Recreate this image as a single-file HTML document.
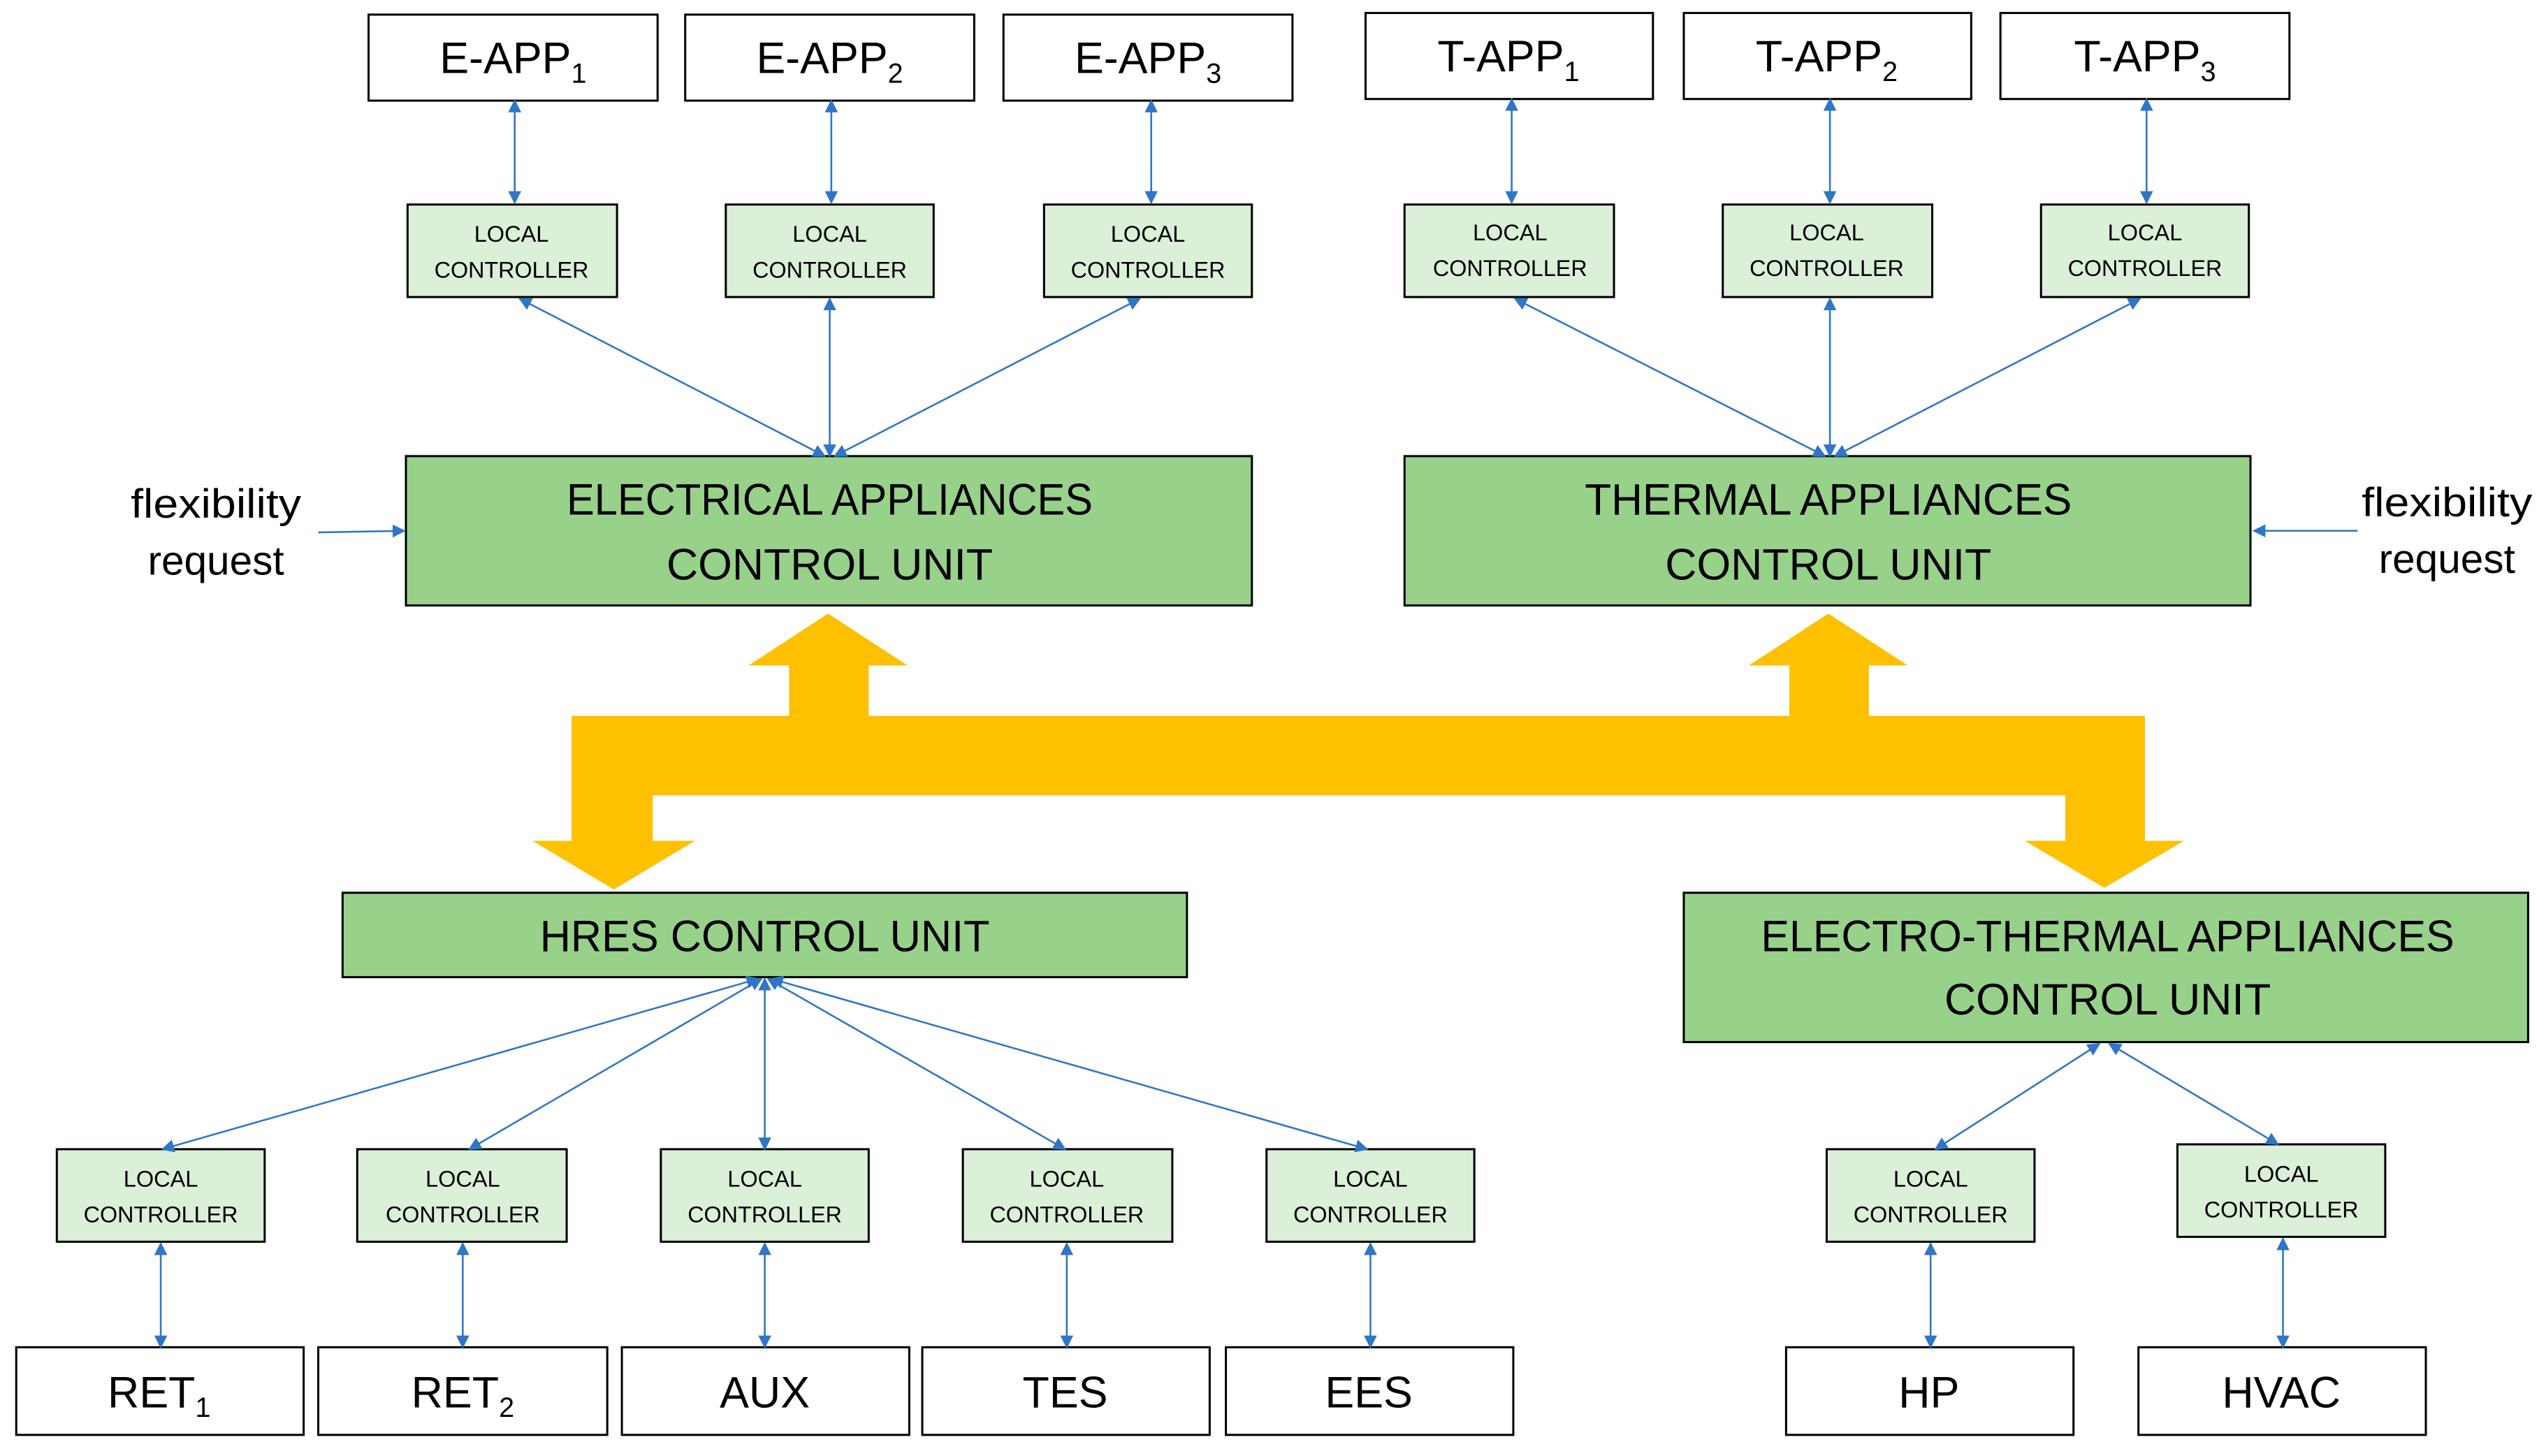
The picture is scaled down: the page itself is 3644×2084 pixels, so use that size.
<!DOCTYPE html>
<html><head><meta charset="utf-8"><style>
html,body{margin:0;padding:0;background:#fff;}
svg{display:block;}
text{font-family:"Liberation Sans Narrow","Liberation Sans",sans-serif;fill:#000;}
</style></head><body>
<svg width="3644" height="2084" viewBox="0 0 1568 897" preserveAspectRatio="none" xmlns="http://www.w3.org/2000/svg">
<defs>
<marker id="a" viewBox="0 0 10 10" refX="9" refY="5" markerWidth="8" markerHeight="8" markerUnits="userSpaceOnUse" orient="auto-start-reverse"><path d="M0,0L10,5L0,10z" fill="#2f75c8"/></marker>
</defs>
<g stroke="#000" stroke-width="1.3" fill="#fff">
<rect x="227" y="9" width="178" height="53"/><rect x="422" y="9" width="178" height="53"/><rect x="618" y="9" width="178" height="53"/>
<rect x="841" y="8" width="177" height="53"/><rect x="1037" y="8" width="177" height="53"/><rect x="1232" y="8" width="178" height="53"/>
<rect x="10" y="830" width="177" height="54"/><rect x="196" y="830" width="178" height="54"/><rect x="383" y="830" width="177" height="54"/><rect x="568" y="830" width="177" height="54"/><rect x="755" y="830" width="177" height="54"/>
<rect x="1100" y="830" width="177" height="54"/><rect x="1317" y="830" width="177" height="54"/>
</g>
<g stroke="#000" stroke-width="1.3" fill="#dcefd8">
<rect x="251" y="126" width="129" height="57"/><rect x="447" y="126" width="128" height="57"/><rect x="643" y="126" width="128" height="57"/>
<rect x="865" y="126" width="129" height="57"/><rect x="1061" y="126" width="129" height="57"/><rect x="1257" y="126" width="128" height="57"/>
<rect x="35" y="708" width="128" height="57"/><rect x="220" y="708" width="129" height="57"/><rect x="407" y="708" width="128" height="57"/><rect x="593" y="708" width="129" height="57"/><rect x="780" y="708" width="128" height="57"/>
<rect x="1125" y="708" width="128" height="57"/><rect x="1341" y="705" width="128" height="57"/>
</g>
<g stroke="#000" stroke-width="1.3" fill="#98d18a">
<rect x="250" y="281" width="521" height="92"/><rect x="865" y="281" width="521" height="92"/>
<rect x="211" y="550" width="520" height="52"/><rect x="1037" y="550" width="520" height="92"/>
</g>
<g fill="#ffc000">
<path d="M352,441H1321V518H1345L1296,547L1247,518H1272V490H402V518H428L378,548L328,518H352Z"/>
<path d="M486,441V410H461L510,378L559,410H535V441Z"/>
<path d="M1102,441V410H1077L1126,378L1175,410H1151V441Z"/>
</g>
<g stroke="#2f75c8" stroke-width="1.1" fill="none" marker-start="url(#a)" marker-end="url(#a)">
<line x1="317" y1="62" x2="317" y2="125"/><line x1="512" y1="62" x2="512" y2="125"/><line x1="709" y1="62" x2="709" y2="125"/>
<line x1="931" y1="61" x2="931" y2="125"/><line x1="1127" y1="61" x2="1127" y2="125"/><line x1="1322" y1="61" x2="1322" y2="125"/>
<line x1="320" y1="184" x2="508" y2="281"/><line x1="511" y1="184" x2="511" y2="281"/><line x1="702" y1="184" x2="514" y2="281"/>
<line x1="933" y1="184" x2="1124" y2="281"/><line x1="1127" y1="184" x2="1127" y2="281"/><line x1="1318" y1="184" x2="1130" y2="281"/>
<line x1="196" y1="328" x2="249" y2="327" marker-start="none"/><line x1="1452" y1="327" x2="1388" y2="327" marker-start="none"/>
<line x1="467" y1="603" x2="100" y2="708"/><line x1="469" y1="603" x2="289" y2="708"/><line x1="471" y1="603" x2="471" y2="708"/><line x1="473" y1="603" x2="656" y2="708"/><line x1="475" y1="603" x2="842" y2="708"/>
<line x1="1293" y1="643" x2="1192" y2="708"/><line x1="1299" y1="643" x2="1403" y2="705"/>
<line x1="99" y1="766" x2="99" y2="830"/><line x1="285" y1="766" x2="285" y2="830"/><line x1="471" y1="766" x2="471" y2="830"/><line x1="657" y1="766" x2="657" y2="830"/><line x1="844" y1="766" x2="844" y2="830"/>
<line x1="1189" y1="766" x2="1189" y2="830"/><line x1="1406" y1="763" x2="1406" y2="830"/>
</g>
<g font-size="27" text-anchor="middle">
<text x="316" y="45">E-APP<tspan font-size="17" dy="6">1</tspan></text>
<text x="511" y="45">E-APP<tspan font-size="17" dy="6">2</tspan></text>
<text x="707" y="45">E-APP<tspan font-size="17" dy="6">3</tspan></text>
<text x="929" y="44">T-APP<tspan font-size="17" dy="6">1</tspan></text>
<text x="1125" y="44">T-APP<tspan font-size="17" dy="6">2</tspan></text>
<text x="1321" y="44">T-APP<tspan font-size="17" dy="6">3</tspan></text>
<text x="98" y="867">RET<tspan font-size="17" dy="6">1</tspan></text>
<text x="285" y="867">RET<tspan font-size="17" dy="6">2</tspan></text>
<text x="471" y="867">AUX</text><text x="656" y="867">TES</text><text x="843" y="867">EES</text>
<text x="1188" y="867">HP</text><text x="1405" y="867">HVAC</text>
</g>
<g font-size="27" text-anchor="middle">
<text x="511" y="317" textLength="324" lengthAdjust="spacingAndGlyphs">ELECTRICAL APPLIANCES</text>
<text x="511" y="357" textLength="201" lengthAdjust="spacingAndGlyphs">CONTROL UNIT</text>
<text x="1126" y="317" textLength="300" lengthAdjust="spacingAndGlyphs">THERMAL APPLIANCES</text>
<text x="1126" y="357" textLength="201" lengthAdjust="spacingAndGlyphs">CONTROL UNIT</text>
<text x="471" y="586" textLength="277" lengthAdjust="spacingAndGlyphs">HRES CONTROL UNIT</text>
<text x="1298" y="586" textLength="427" lengthAdjust="spacingAndGlyphs">ELECTRO-THERMAL APPLIANCES</text>
<text x="1298" y="625" textLength="201" lengthAdjust="spacingAndGlyphs">CONTROL UNIT</text>
</g>
<g font-size="25" text-anchor="middle">
<text x="133" y="319" textLength="105" lengthAdjust="spacingAndGlyphs">flexibility</text>
<text x="133" y="354" textLength="84" lengthAdjust="spacingAndGlyphs">request</text>
<text x="1507" y="318" textLength="105" lengthAdjust="spacingAndGlyphs">flexibility</text>
<text x="1507" y="353" textLength="84" lengthAdjust="spacingAndGlyphs">request</text>
</g>
<g font-size="14" text-anchor="middle">
<text x="315" y="149">LOCAL</text><text x="315" y="171" textLength="95" lengthAdjust="spacingAndGlyphs">CONTROLLER</text>
<text x="511" y="149">LOCAL</text><text x="511" y="171" textLength="95" lengthAdjust="spacingAndGlyphs">CONTROLLER</text>
<text x="707" y="149">LOCAL</text><text x="707" y="171" textLength="95" lengthAdjust="spacingAndGlyphs">CONTROLLER</text>
<text x="930" y="148">LOCAL</text><text x="930" y="170" textLength="95" lengthAdjust="spacingAndGlyphs">CONTROLLER</text>
<text x="1125" y="148">LOCAL</text><text x="1125" y="170" textLength="95" lengthAdjust="spacingAndGlyphs">CONTROLLER</text>
<text x="1321" y="148">LOCAL</text><text x="1321" y="170" textLength="95" lengthAdjust="spacingAndGlyphs">CONTROLLER</text>
<text x="99" y="731">LOCAL</text><text x="99" y="753" textLength="95" lengthAdjust="spacingAndGlyphs">CONTROLLER</text>
<text x="285" y="731">LOCAL</text><text x="285" y="753" textLength="95" lengthAdjust="spacingAndGlyphs">CONTROLLER</text>
<text x="471" y="731">LOCAL</text><text x="471" y="753" textLength="95" lengthAdjust="spacingAndGlyphs">CONTROLLER</text>
<text x="657" y="731">LOCAL</text><text x="657" y="753" textLength="95" lengthAdjust="spacingAndGlyphs">CONTROLLER</text>
<text x="844" y="731">LOCAL</text><text x="844" y="753" textLength="95" lengthAdjust="spacingAndGlyphs">CONTROLLER</text>
<text x="1189" y="731">LOCAL</text><text x="1189" y="753" textLength="95" lengthAdjust="spacingAndGlyphs">CONTROLLER</text>
<text x="1405" y="728">LOCAL</text><text x="1405" y="750" textLength="95" lengthAdjust="spacingAndGlyphs">CONTROLLER</text>
</g>
</svg>
</body></html>
